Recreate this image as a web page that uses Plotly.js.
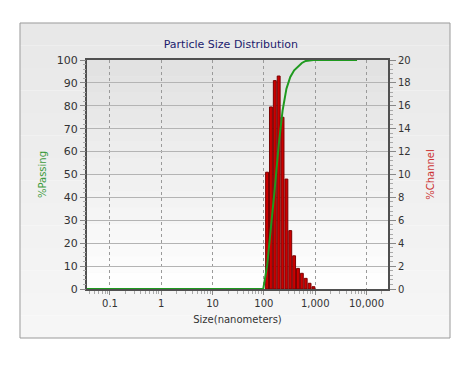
<!DOCTYPE html>
<html>
<head>
<meta charset="utf-8">
<script src="https://cdn.plot.ly/plotly-3.0.1.min.js"></script>
<style>html,body{margin:0;padding:0;background:#fff;}#chart{width:476px;height:371px;}</style>
</head>
<body>
<div id="chart"></div>
<script>
// Channel sizes (nm) and % in each channel
var channelSizes = [115.6, 137.5, 163.5, 194.5, 231.2, 275.0, 327.0, 388.9, 462.5, 550.0, 654.1, 777.8, 925.0];
var channelPct   = [10.2, 15.9, 18.2, 18.6, 15.0, 9.6, 5.1, 2.9, 1.8, 1.37, 0.93, 0.5, 0.2];
// Cumulative % passing curve
var passSizes = [0.035, 97.2, 115.6, 137.5, 163.5, 194.5, 231.2, 275.0, 327.0, 388.9, 462.5, 550.0, 654.1, 777.8, 925.0, 6540];
var passPct   = [0, 0, 10.2, 26.1, 44.3, 62.9, 77.9, 87.5, 92.6, 95.5, 97.3, 98.7, 99.6, 99.9, 100, 100];
// Axis tick labels
var xTickVals = [0.1, 1, 10, 100, 1000, 10000];
var xTickText = ["0.1", "1", "10", "100", "1,000", "10,000"];

var font = "DejaVu Sans, Verdana, sans-serif";

var minorX = [];
for (var d = -2; d <= 4; d++) {
  for (var k = 2; k <= 9; k++) minorX.push(k * Math.pow(10, d));
}

var barWidths = channelSizes.map(function (s) { return s * 0.13; });

// bars on primary y (right side, %Channel); curve on y2 overlay (left side, %Passing) so it draws on top
var bars = {
  type: 'bar', x: channelSizes, y: channelPct, yaxis: 'y', width: barWidths,
  marker: {color: '#cc0000', line: {color: '#7a0000', width: 1}},
  hoverinfo: 'x+y'
};
var curve = {
  type: 'scatter', mode: 'lines', x: passSizes, y: passPct, yaxis: 'y2',
  line: {color: '#1f9a1f', width: 2}
};

// gradient bands
var shapes = [];
function band(x0, x1, y0, y1, c0, c1, n, xr, yr) {
  for (var i = 0; i < n; i++) {
    var t = i / (n - 1);
    var r = Math.round(c0 + (c1 - c0) * t);
    var col = 'rgb(' + r + ',' + r + ',' + r + ')';
    var ya = y1 - (y1 - y0) * i / n, yb = y1 - (y1 - y0) * (i + 1) / n;
    shapes.push({type: 'rect', xref: xr, yref: yr, x0: x0, x1: x1, y0: yb, y1: ya,
      fillcolor: col, line: {width: 0}, layer: 'below'});
  }
}
// outer box
band(-0.2226, 1.206, -0.214, 1.1616, 232, 246, 14, 'paper', 'paper');
shapes.push({type: 'rect', xref: 'paper', yref: 'paper', x0: -0.2226, x1: 1.206, y0: -0.214, y1: 1.1616,
  line: {color: '#9a9a9a', width: 1}, fillcolor: 'rgba(0,0,0,0)', layer: 'below'});
// plot area
band(0, 1, 0, 1, 226, 254, 14, 'paper', 'paper');

var layout = {
  width: 476, height: 371,
  margin: {l: 87, r: 88, t: 60, b: 82},
  paper_bgcolor: '#ffffff', plot_bgcolor: 'rgba(0,0,0,0)',
  showlegend: false, bargap: 0,
  font: {family: font, size: 10, color: '#333'},
  title: {text: 'Particle Size Distribution', font: {family: font, size: 11, color: '#1c1c6e'},
    x: 0.478, xref: 'paper', xanchor: 'center', y: 0.881, yanchor: 'middle'},
  xaxis: {
    type: 'log', range: [-1.448, 4.419], tickvals: xTickVals, ticktext: xTickText,
    showgrid: true, gridcolor: '#9a9a9a', griddash: 'dot', gridwidth: 1,
    ticks: 'outside', ticklen: 4, tickcolor: '#888',
    minor: {tickvals: minorX, ticks: 'outside', ticklen: 3, tickcolor: '#aaa', showgrid: false},
    showline: true, linecolor: '#505050', linewidth: 2, mirror: true,
    zeroline: false, tickfont: {family: font, size: 10, color: '#333'},
    title: {text: 'Size(nanometers)', font: {family: font, size: 10, color: '#333'}, standoff: 8}
  },
  yaxis: {
    range: [0, 20], dtick: 2, tickmode: 'linear', tick0: 0, side: 'right',
    showgrid: true, gridcolor: '#b4b4b4', gridwidth: 1,
    ticks: 'outside', ticklen: 6, tickcolor: '#888',
    minor: {dtick: 0.4, ticks: 'outside', ticklen: 3, tickcolor: '#aaa', showgrid: false},
    showline: true, linecolor: '#505050', linewidth: 2, mirror: true,
    zeroline: false, tickfont: {family: font, size: 10, color: '#333'},
    title: {text: '%Channel', font: {family: font, size: 10, color: '#cc3333'}, standoff: 17}
  },
  yaxis2: {
    range: [0, 100], dtick: 10, tickmode: 'linear', tick0: 0, overlaying: 'y', side: 'left',
    showgrid: false, ticks: 'outside', ticklen: 6, tickcolor: '#888',
    minor: {dtick: 2, ticks: 'outside', ticklen: 3, tickcolor: '#aaa', showgrid: false},
    zeroline: false, tickfont: {family: font, size: 11, color: '#333'},
    title: {text: '%Passing', font: {family: font, size: 10, color: '#3c9a3c'}, standoff: 8}
  },
  shapes: shapes
};

Plotly.newPlot('chart', [bars, curve], layout, {displayModeBar: false, staticPlot: true});
</script>
</body>
</html>
